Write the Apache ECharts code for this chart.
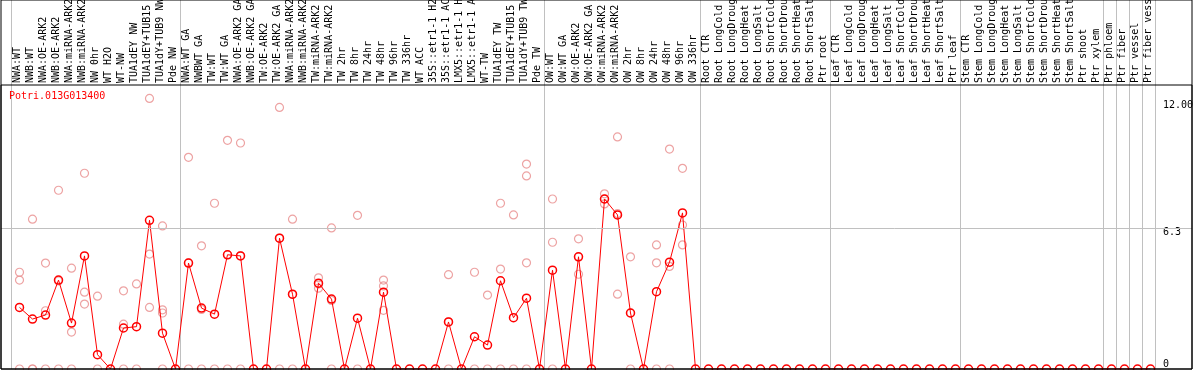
<!DOCTYPE html>
<html><head><meta charset="utf-8">
<script src="https://cdn.jsdelivr.net/npm/echarts@6/dist/echarts.min.js"></script>
<style>html,body{margin:0;padding:0;background:#fff}#c{width:1194px;height:370px}</style>
</head><body><div id="c"></div>
<script>
const chartTitle = 'Potri.013G013400';

const categories = [
  'NWA:WT','NWB:WT','NWA:OE-ARK2','NWB:OE-ARK2','NWA:miRNA-ARK2','NWB:miRNA-ARK2','NW 0hr','WT H2O','WT-NW',
  'TUA1dEY NW','TUA1dEY+TUB15 NW','TUA1dY+TUB9 NW','Pde NW',
  'NWA:WT GA','NWBWT GA','TW:WT','TW:WT GA','NWA:OE-ARK2 GA','NWB:OE-ARK2 GA','TW:OE-ARK2','TW:OE-ARK2 GA',
  'NWA:miRNA-ARK2','NWB:miRNA-ARK2','TW:miRNA-ARK2','TW:miRNA-ARK2','TW 2hr','TW 8hr','TW 24hr','TW 48hr',
  'TW 96hr','TW 336hr','WT ACC','35S::etr1-1 H2O','35S::etr1-1 ACC','LMX5::etr1-1 H2O','LMX5::etr1-1 ACC',
  'WT-TW','TUA1dEY TW','TUA1dEY+TUB15 TW','TUA1dY+TUB9 TW','Pde TW',
  'OW:WT','OW:WT GA','OW:OE-ARK2','OW:OE-ARK2 GA','OW:miRNA-ARK2','OW:miRNA-ARK2','OW 2hr','OW 8hr',
  'OW 24hr','OW 48hr','OW 96hr','OW 336hr',
  'Root CTR','Root LongCold','Root LongDrought','Root LongHeat','Root LongSalt','Root ShortCold',
  'Root ShortDrought','Root ShortHeat','Root ShortSalt','Ptr root',
  'Leaf CTR','Leaf LongCold','Leaf LongDrought','Leaf LongHeat','Leaf LongSalt','Leaf ShortCold',
  'Leaf ShortDrought','Leaf ShortHeat','Leaf ShortSalt','Ptr leaf',
  'Stem CTR','Stem LongCold','Stem LongDrought','Stem LongHeat','Stem LongSalt','Stem ShortCold',
  'Stem ShortDrought','Stem ShortHeat','Stem ShortSalt','Ptr shoot','Ptr xylem',
  'Ptr phloem','Ptr fiber','Ptr vessel','Ptr fiber vessel'
];

// first category index of each group (group separator lines)
const groupStarts = [0, 13, 41, 53, 63, 73, 84, 85, 86, 87];

const meanValues = [
  2.75, 2.23, 2.41, 3.97, 2.05, 5.05, 0.64, 0, 1.83, 1.89, 6.64, 1.60, 0,
  4.73, 2.72, 2.45, 5.10, 5.05, 0, 0, 5.84, 3.34, 0, 3.83, 3.12, 0, 2.27, 0, 3.43,
  0, 0, 0, 0, 2.10, 0, 1.44, 1.07, 3.94, 2.29, 3.16, 0,
  4.41, 0, 5.01, 0, 7.59, 6.88, 2.50, 0, 3.45, 4.77, 6.97, 0,
  0, 0, 0, 0, 0, 0, 0, 0, 0, 0,
  0, 0, 0, 0, 0, 0, 0, 0, 0, 0,
  0, 0, 0, 0, 0, 0, 0, 0, 0, 0, 0,
  0, 0, 0, 0
];

const rep1 = [
  4.32, 6.69, 4.73, 7.98, 4.50, 8.74, 3.25, null, 3.49, 3.80, 12.08, 6.39, null,
  9.45, 5.50, 7.40, 10.21, 10.09, null, null, 11.68, 6.69, null, 4.07, 6.30, null, 6.86, null, 3.97,
  null, null, null, null, 4.21, null, 4.32, 3.30, 7.40, 6.88, 9.15, null,
  7.59, null, 5.81, null, 7.82, 10.36, 5.01, null, 5.54, 9.82, 8.96, null
];
const rep2 = [
  3.97, 0, 2.60, 3.93, 1.65, 3.43, 0, null, 2.00, 0, 5.13, 2.64, null,
  4.74, 2.66, 0, 5.10, 5.06, null, null, 5.84, 3.33, null, 3.80, 3.06, null, 0, null, 3.71,
  null, null, null, null, 2.10, null, 0, 0, 4.46, 0, 8.62, null,
  5.66, null, 5.00, null, 7.59, 6.94, 2.50, null, 4.74, 4.58, 6.43, null
];
const rep3 = [
  0, 0, 0, 0, 0, 2.90, null, null, 0, null, 2.75, 2.50, null,
  0, 0, null, 0, 0, null, null, 0, 0, null, 3.61, 0, null, null, null, 2.62,
  null, null, null, null, 0, null, null, null, 0, null, 4.74, null,
  0, null, 4.23, null, 7.37, 3.34, 0, null, 0, 0, 5.54, null
];
const rep4 = [
  null, null, null, null, null, null, null, null, null, null, null, 0, null,
  null, null, null, null, null, null, null, null, null, null, null, null, null, null, null, null,
  null, null, null, null, null, null, null, null, null, null, 0, null
];

const yMax = 12.68;
const gridLineValue = 6.3;
const yLabelTop = [12, 6.3];      // labels hanging below their value
const yLabelTopText = ['12.00', '6.3'];
const yLabelBottom = [0];         // label sitting above its value
const yLabelBottomText = ['0'];

const mono = 'DejaVu Sans Mono';
const gray = '#c0c0c0';
const red = '#ff0000';
const pink = '#e88c8c';
const sepInterval = function (idx) { return groupStarts.indexOf(idx) >= 0; };
function pick(vals, texts) {
  return function (v) {
    for (let i = 0; i < vals.length; i++) if (Math.abs(v - vals[i]) < 1e-6) return texts[i];
    return '';
  };
}

const chart = echarts.init(document.getElementById('c'));
const repSeries = [rep1, rep2, rep3, rep4].map(function (r) {
  return {
    type: 'scatter', xAxisIndex: 4, yAxisIndex: 5, data: r,
    symbol: 'circle', symbolSize: 8, z: 3,
    itemStyle: { color: 'transparent', borderColor: pink, borderWidth: 1.2 }
  };
});

chart.setOption({
  animation: false,
  backgroundColor: '#fff',
  title: {
    text: chartTitle, left: 9, top: 91, padding: 0,
    textStyle: { color: red, fontFamily: mono, fontSize: 10, fontWeight: 'normal' }
  },
  grid: [
    { left: 1, top: 0, width: 1191, height: 369, show: true, borderColor: '#000', borderWidth: 1, backgroundColor: 'transparent', z: 10, outerBoundsMode: 'none' },
    { left: 1, top: 85, width: 1191, height: 284, show: true, borderColor: '#000', borderWidth: 1, backgroundColor: 'transparent', z: 10, outerBoundsMode: 'none' },
    { left: 11, top: 0, width: 1144, height: 85, outerBoundsMode: 'none' },
    { left: 11, top: 85, width: 1144, height: 284, outerBoundsMode: 'none' },
    { left: 13, top: 85, width: 1144, height: 284, outerBoundsMode: 'none' }
  ],
  xAxis: [
    { gridIndex: 0, type: 'value', min: 0, max: 1, show: false },
    { gridIndex: 1, type: 'value', min: 0, max: 1, show: false },
    { gridIndex: 2, type: 'category', data: categories, position: 'bottom', boundaryGap: true,
      axisLine: { show: false }, axisTick: { show: false },
      axisLabel: { inside: true, rotate: 90, interval: 0, margin: 2, fontFamily: mono, fontSize: 10, color: '#000' },
      splitLine: { show: true, interval: sepInterval, lineStyle: { color: gray, width: 1 } } },
    { gridIndex: 3, type: 'category', data: categories, boundaryGap: true,
      axisLine: { show: false }, axisTick: { show: false }, axisLabel: { show: false },
      splitLine: { show: true, interval: sepInterval, lineStyle: { color: gray, width: 1 } } },
    { gridIndex: 4, type: 'category', data: categories, boundaryGap: true, show: false }
  ],
  yAxis: [
    { gridIndex: 0, type: 'value', min: 0, max: 1, show: false },
    { gridIndex: 1, type: 'value', min: 0, max: yMax, show: false },
    { gridIndex: 2, type: 'value', min: 0, max: 1, show: false },
    { gridIndex: 3, type: 'value', min: 0, max: yMax, interval: 0.3, position: 'right',
      axisLine: { show: false }, axisTick: { show: false }, splitLine: { show: false },
      axisLabel: { margin: 8, fontFamily: mono, fontSize: 10, color: '#000', verticalAlign: 'top',
        formatter: pick(yLabelTop, yLabelTopText) } },
    { gridIndex: 3, type: 'value', min: 0, max: yMax, interval: 0.3, position: 'right',
      axisLine: { show: false }, axisTick: { show: false }, splitLine: { show: false },
      axisLabel: { margin: 8, fontFamily: mono, fontSize: 10, color: '#000', verticalAlign: 'bottom',
        formatter: pick(yLabelBottom, yLabelBottomText) } },
    { gridIndex: 4, type: 'value', min: 0, max: yMax, show: false }
  ],
  series: [
    { type: 'line', xAxisIndex: 1, yAxisIndex: 1, data: [], symbol: 'none', z: 1,
      markLine: { silent: true, symbol: 'none', label: { show: false },
        lineStyle: { color: gray, type: 'solid', width: 1 }, data: [{ yAxis: gridLineValue }] } }
  ].concat(repSeries).concat([
    { type: 'line', xAxisIndex: 4, yAxisIndex: 5, data: meanValues, z: 4,
      symbol: 'circle', symbolSize: 8, showAllSymbol: true,
      lineStyle: { color: red, width: 1 },
      itemStyle: { color: 'transparent', borderColor: red, borderWidth: 1.5 } }
  ])
});
</script>
</body></html>
